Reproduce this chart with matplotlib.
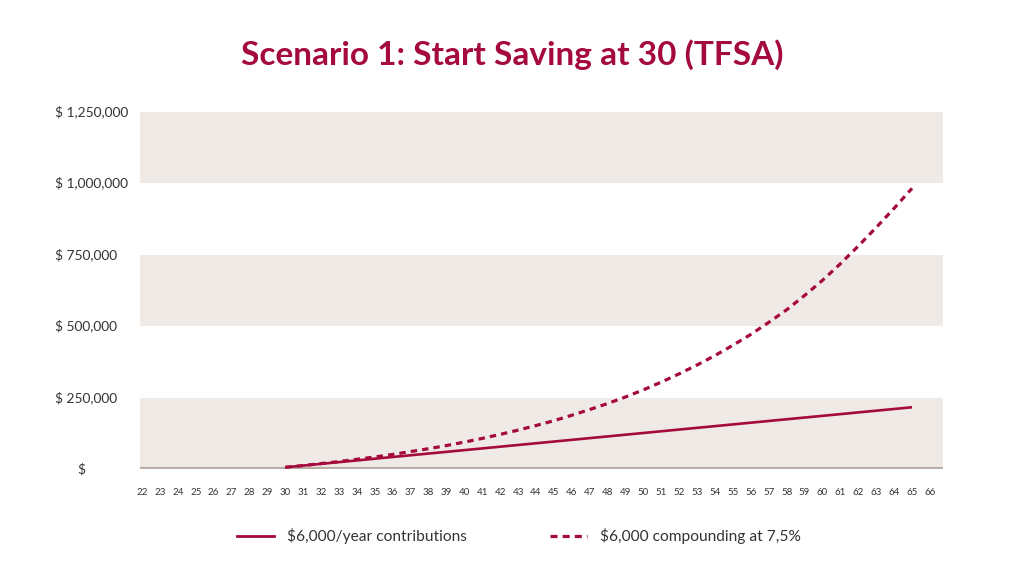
import matplotlib
matplotlib.use("Agg")
import matplotlib.pyplot as plt
from matplotlib.lines import Line2D
from matplotlib.transforms import blended_transform_factory

plt.rcParams["font.family"] = ["Lato", "DejaVu Sans"]

# data
ages = list(range(22, 67))
line_ages = list(range(30, 66))
contributions = [6000, 12000, 18000, 24000, 30000, 36000, 42000, 48000, 54000,
                 60000, 66000, 72000, 78000, 84000, 90000, 96000, 102000, 108000,
                 114000, 120000, 126000, 132000, 138000, 144000, 150000, 156000,
                 162000, 168000, 174000, 180000, 186000, 192000, 198000, 204000,
                 210000, 216000]
compounding = [6000, 12000, 19000, 26000, 34000, 42000, 51000, 61000, 71000,
               82000, 94000, 107000, 121000, 136000, 152000, 169000, 188000,
               208000, 229000, 252000, 277000, 304000, 333000, 364000, 397000,
               433000, 471000, 513000, 557000, 607000, 660000, 718000, 780000,
               845000, 912000, 982000]
y_ticks = [0, 250000, 500000, 750000, 1000000, 1250000]
y_labels = ["$", "$ 250,000", "$ 500,000", "$ 750,000", "$ 1,000,000", "$ 1,250,000"]

red = "#A50A3C"
band = "#EFEAE6"
text_col = "#333333"

fig = plt.figure(figsize=(10.24, 5.76), dpi=100)
ax = fig.add_axes([140 / 1024, 1 - 469 / 576, 803 / 1024, (469 - 111.7) / 576])

ax.set_xlim(21.89, 66.73)
ax.set_ylim(0, 1250000)

# shaded bands
for lo, hi in [(0, 250000), (500000, 750000), (1000000, 1250000)]:
    ax.axhspan(lo, hi, color=band, lw=0, zorder=0)
ax.axhline(0, color="#B9ADA8", lw=3, zorder=1)

ax.plot(line_ages, contributions, color=red, lw=1.9, zorder=3,
        solid_capstyle="butt")
ax.plot(line_ages, compounding, color=red, lw=2.3, zorder=3,
        linestyle=(0, (2.0, 1.6)))

for s in ax.spines.values():
    s.set_visible(False)
ax.set_yticks([])
ax.set_xticks(ages)
ax.set_xticklabels([str(a) for a in ages], fontsize=7, color=text_col)
ax.tick_params(axis="x", length=0, pad=14)

# y labels, left aligned like the original
trans = blended_transform_factory(fig.transFigure, ax.transData)
for v, lab in zip(y_ticks, y_labels):
    x = 77 / 1024 if lab == "$" else 55 / 1024
    fig.text(x, v, lab, transform=trans, fontsize=9.9, color=text_col,
             ha="left", va="center")

fig.text(512 / 1024, 1 - 55 / 576, "Scenario 1: Start Saving at 30 (TFSA)",
         fontsize=24, fontweight="bold", color=red, ha="center", va="center")

handles = [Line2D([], [], color=red, lw=2.0),
           Line2D([], [], color=red, lw=2.3, linestyle=(0, (2.2, 1.6)))]
fig.legend(handles, ["$6,000/year contributions", "$6,000 compounding at 7,5%"],
           loc="center", bbox_to_anchor=(519 / 1024, 1 - 536 / 576), ncol=2,
           frameon=False, fontsize=11.2, handlelength=2.4, handletextpad=0.85,
           columnspacing=5.3, labelcolor=text_col)

fig.savefig("out.png", dpi=100)
